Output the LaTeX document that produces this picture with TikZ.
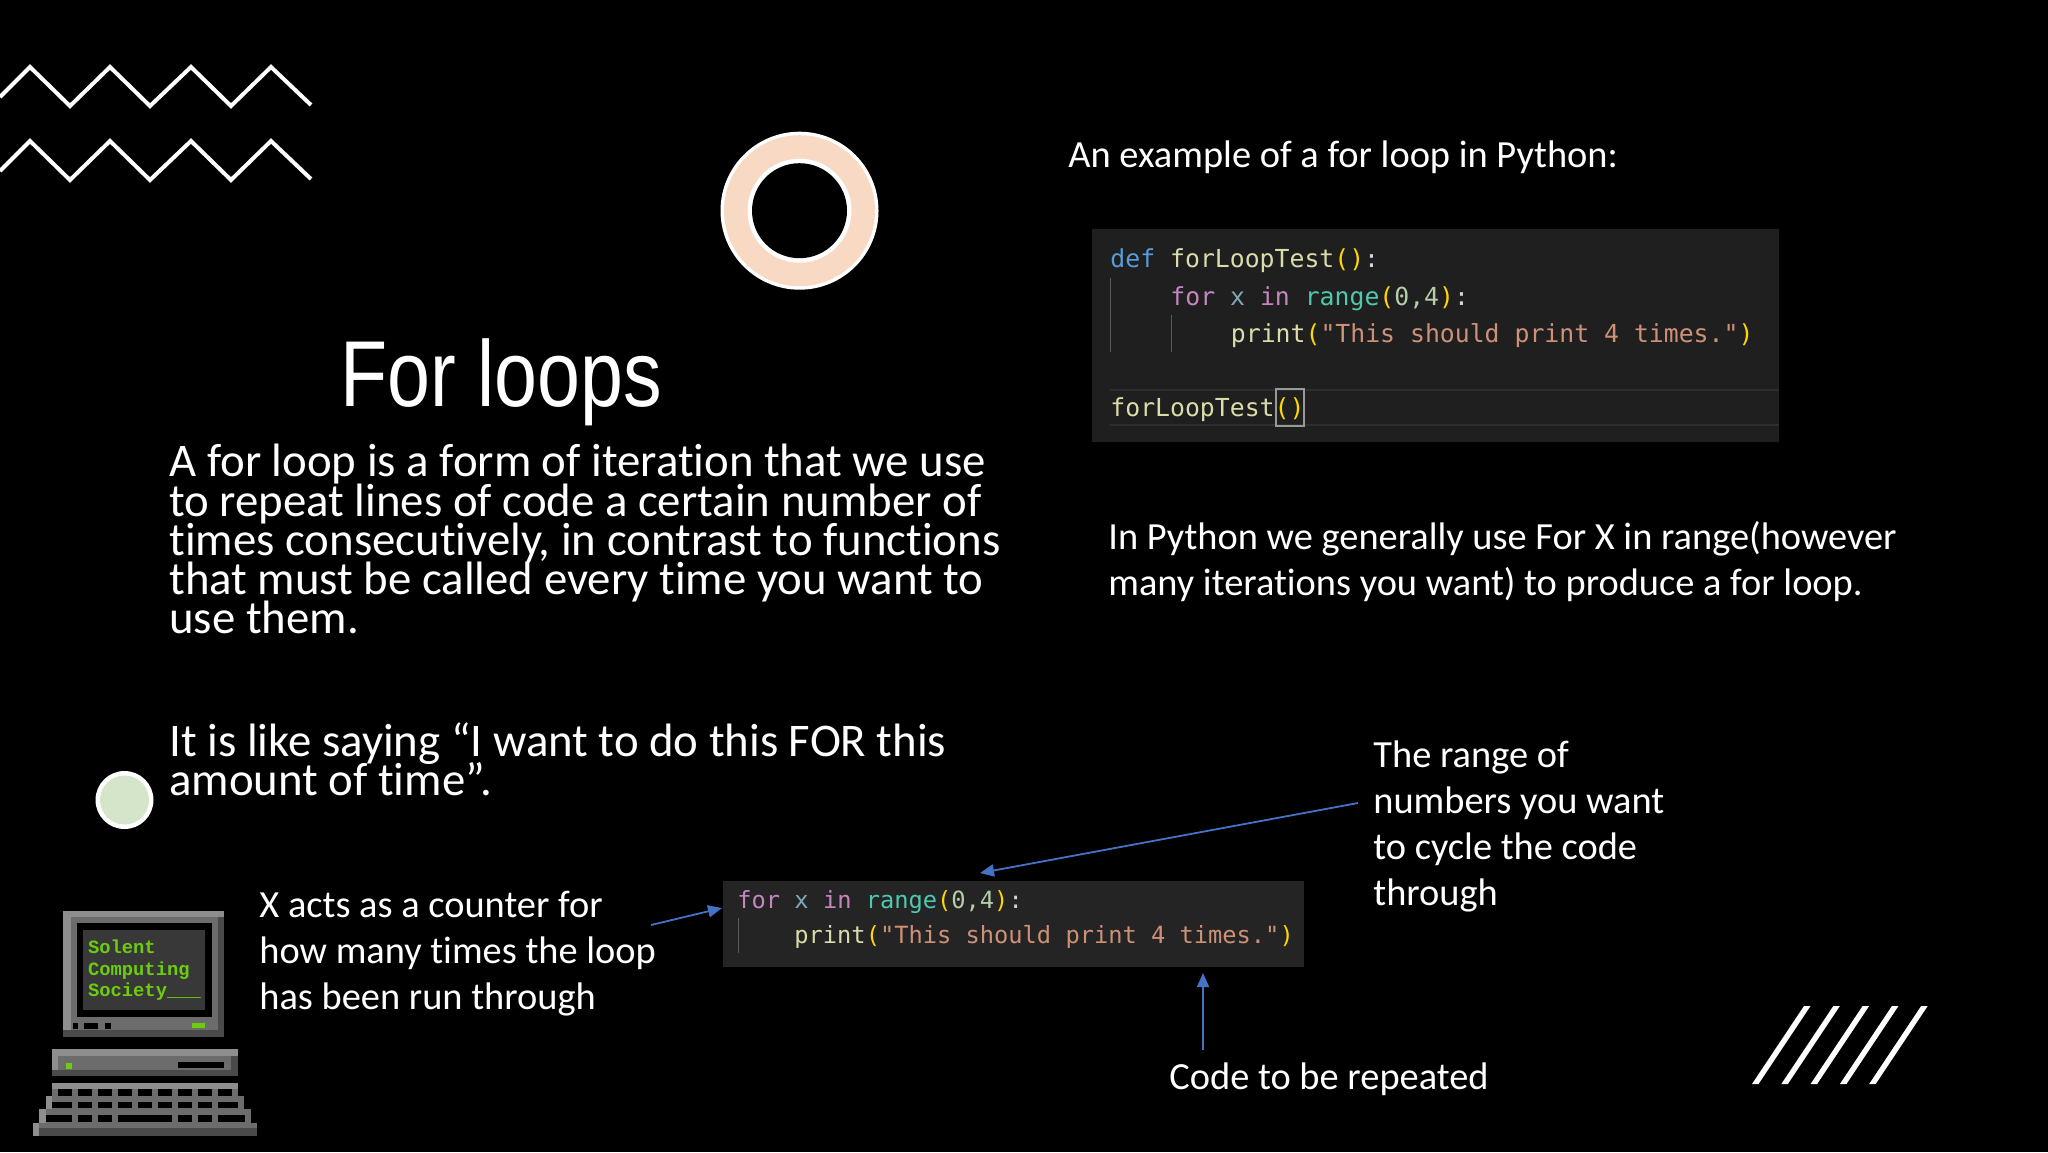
\documentclass[tikz,border=0pt]{standalone}
\usepackage{fontspec}
\setmainfont{Carlito}[Ligatures={NoCommon}]
\newfontfamily\titlefont{Liberation Sans}
\newfontfamily\codefont{DejaVu Sans Mono}
\newfontfamily\termfont{Liberation Mono}
\usetikzlibrary{arrows.meta}
\setlength{\lineskiplimit}{-50pt}
\setlength{\normallineskiplimit}{-50pt}
\definecolor{kw}{HTML}{C586C0}
\definecolor{blu}{HTML}{569CD6}
\definecolor{fn}{HTML}{DCDCAA}
\definecolor{teal}{HTML}{4EC9B0}
\definecolor{var}{HTML}{7FA8B8}
\definecolor{num}{HTML}{B5CEA8}
\definecolor{str}{HTML}{CE9178}
\definecolor{brk}{HTML}{FFD700}
\definecolor{wht}{HTML}{D4D4D4}
\definecolor{arrowblue}{HTML}{4472C4}
\definecolor{termgreen}{HTML}{6CCC10}
\definecolor{lt}{HTML}{8E8E8E}
\definecolor{md}{HTML}{6C6C6C}
\definecolor{dk}{HTML}{4A4A4A}
\definecolor{peach}{HTML}{F7D9C4}
\definecolor{sage}{HTML}{D5E5CA}
\newcommand{\Kw}[1]{\textcolor{kw}{#1}}
\newcommand{\Fn}[1]{\textcolor{fn}{#1}}
\newcommand{\Br}[1]{\textcolor{brk}{#1}}
\newcommand{\St}[1]{\textcolor{str}{#1}}
\newcommand{\forline}{\Kw{for} \textcolor{var}{x} \Kw{in} \textcolor{teal}{range}\Br{(}\textcolor{num}{0,4}\Br{)}\textcolor{wht}{:}}
\newcommand{\printline}{\Fn{print}\Br{(}\St{"This should print 4 times."}\Br{)}}
\tikzset{
 txt/.style={anchor=north west,inner sep=0pt,text=white,align=left},
 codeA/.style={anchor=base west,inner sep=0pt,font=\codefont\fontsize{12.4}{15}\selectfont},
 codeB/.style={anchor=base west,inner sep=0pt,font=\codefont\fontsize{11.85}{15}\selectfont},
 zig/.style={draw=white,line width=2pt,line join=miter,line cap=butt},
 arr/.style={draw=arrowblue,line width=0.9pt,-{Triangle[length=7pt,width=6pt]}},
 termtxt/.style={anchor=base west,inner sep=0pt,text=termgreen,font=\termfont\bfseries\fontsize{9.4}{11}\selectfont},
 guide/.style={draw=white!35!black,line width=0.5pt},
 bodytxt/.style={txt,font=\fontsize{23.4}{19.6}\selectfont},
 smalltxt/.style={txt,font=\fontsize{19.2}{23}\selectfont}
}
\begin{document}
\begin{tikzpicture}[x=0.5pt,y=-0.5pt]
\useasboundingbox (0,0) rectangle (2048,1152);
\fill[black] (0,0) rectangle (2048,1152);
% zigzags
\draw[zig] (0,97) -- (30,67) -- (70,106) -- (110,67) -- (150,106) -- (191,67) -- (231,106) -- (271,67) -- (311,105);
\draw[zig] (0,171) -- (30,141) -- (70,180) -- (110,141) -- (150,180) -- (191,141) -- (231,180) -- (271,141) -- (311,179);
% circles
\fill[white] (799.5,210.7) circle (79);
\fill[peach] (799.5,210.7) circle (75.5);
\fill[white] (799.5,210.7) circle (52);
\fill[black] (799.5,210.7) circle (47.5);
\fill[white] (124.5,800) circle (29);
\fill[sage] (124.5,800) circle (24.5);
% slashes
\foreach \i in {0,...,4}
 \fill[white,xshift=\i*14.65pt] (1804,1006) -- (1810.5,1006) -- (1758.5,1084) -- (1752,1084) -- cycle;
% title and text
\node[anchor=base west,inner sep=0pt,text=white,font=\titlefont\fontsize{46.8}{50}\selectfont] (title) at (340,406) {\scalebox{0.824}[1]{For loops}};
\node[bodytxt] (body) at (169,444) {A for loop is a form of iteration that we use\\to repeat lines of code a certain number of\\times consecutively, in contrast to functions\\that must be called every time you want to\\use them.};
\node[bodytxt] (body2) at (169,722) {It is like saying “I want to do this FOR this\\amount of time”.};
\node[smalltxt] (ex) at (1068,140) {An example of a for loop in Python:};
\node[smalltxt] (py) at (1108,521) {In Python we generally use For X in range(however\\many iterations you want) to produce a for loop.};
\node[smalltxt] (rangeT) at (1373,740) {The range of\\numbers you want\\to cycle the code\\through};
\node[smalltxt] (counter) at (259,891) {X acts as a counter for\\how many times the loop\\has been run through};
\node[smalltxt] (repeat) at (1169,1062) {Code to be repeated};
% code 1
\fill[black!88!white] (1092,229) rectangle (1779,442);
\draw[black!82!white,line width=0.7pt] (1110,390) -- (1779,390) (1110,425) -- (1779,425);
\draw[guide] (1110.5,278) -- (1110.5,352) (1171,315) -- (1171,352);
\draw[white!60!black,line width=0.8pt] (1276,389) rectangle (1304,426);
\node[codeA] (c1) at (1110,267) {\textcolor{blu}{def} \Fn{forLoopTest}\Br{()}\textcolor{wht}{:}};
\node[codeA] (c2) at (1170,305) {\forline};
\node[codeA] (c3) at (1230.5,342) {\printline};
\node[codeA] (c4) at (1110,416) {\Fn{forLoopTest}\Br{()}};
% code 2
\fill[black!86!white] (723,881) rectangle (1304,967);
\draw[guide] (738.5,918) -- (738.5,953);
\node[codeB] (d1) at (737,908) {\forline};
\node[codeB] (d2) at (794,943) {\printline};
% arrows
\coordinate (a1s) at (651,925); \coordinate (a1e) at (722,908);
\coordinate (a2s) at (1358,803); \coordinate (a2e) at (980,873);
\coordinate (a3s) at (1203,1050); \coordinate (a3e) at (1203,973);
\draw[arr] (a1s) -- (a1e);
\draw[arr] (a2s) -- (a2e);
\draw[arr] (a3s) -- (a3e);
% computer
\begin{scope}[x=0.16667pt,y=-0.16667pt,yshift=-445pt]
\fill[md] (190,62) rectangle (673,440);
\fill[lt] (190,62) rectangle (673,80);
\fill[lt] (190,62) rectangle (213,425);
\fill[dk] (655,80) rectangle (673,440);
\fill[dk] (190,420) rectangle (673,440);
\fill[black] (230,100) rectangle (635,380);
\fill[black!78!white] (248,120) rectangle (615,360);
\node[termtxt] (t1) at (263,190) {Solent};
\node[termtxt] (t2) at (263,255) {Computing};
\node[termtxt] (t3) at (263,318) {Society\_\_\_};
\foreach \a/\b in {218/235,253/295,315/332} \fill[black] (\a,400) rectangle (\b,418);
\fill[termgreen] (575,398) rectangle (615,414);
\fill[md] (155,478) rectangle (714,558);
\fill[lt] (155,478) rectangle (714,497);
\fill[lt] (155,478) rectangle (175,540);
\fill[dk] (693,497) rectangle (714,558);
\fill[dk] (155,540) rectangle (714,558);
\fill[termgreen] (198,518) rectangle (216,536);
\fill[black] (533,517) rectangle (672,535);
\fill[md] (155,578) rectangle (714,620);
\fill[lt] (155,578) rectangle (714,598);
\fill[md] (137,618) rectangle (732,660);
\fill[lt] (137,618) rectangle (155,660);
\fill[md] (118,658) rectangle (752,700);
\fill[lt] (118,658) rectangle (137,700);
\fill[md] (100,698) rectangle (770,737);
\fill[dk] (118,715) rectangle (770,737);
\fill[lt] (100,698) rectangle (118,737);
\foreach \a/\b in {173/215,235/275,295/335,353/395,413/455,473/515,533/575,593/635,653/695} \fill[black] (\a,598) rectangle (\b,617);
\foreach \a/\b in {155/215,235/275,295/335,355/395,415/455,475/515,535/575,595/635,655/715} \fill[black] (\a,637) rectangle (\b,655);
\foreach \a/\b in {137/217,235/277,295/335,355/515,535/575,593/635,653/735} \fill[black] (\a,675) rectangle (\b,695);
\end{scope}
\end{tikzpicture}
\end{document}
